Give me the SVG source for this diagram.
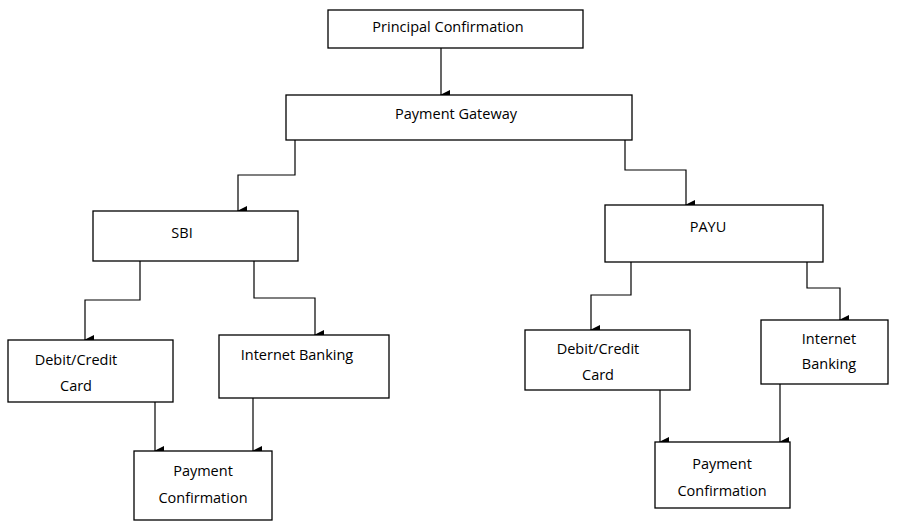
<svg xmlns="http://www.w3.org/2000/svg" width="907" height="530" viewBox="0 0 907 530">
<defs>
<marker id="a" markerWidth="10" markerHeight="10" refX="5" refY="9" orient="auto" markerUnits="userSpaceOnUse" viewBox="0 0 10 10">
<path d="M0,0 L10,0 L5,10 Z" fill="#000"/>
</marker>
<style>
.b{fill:#fff;stroke:#000;stroke-width:1.3}
.t{font-family:"Open Sans","Liberation Sans",sans-serif;font-size:14.5px;fill:#000;text-anchor:middle}
.c path{fill:none;stroke:#000;stroke-width:1.2;marker-end:url(#a)}
</style>
</defs>
<rect width="907" height="530" fill="#fff"/>
<g class="c">
<path d="M441,48 V95"/>
<path d="M295,140 V175 H238 V211"/>
<path d="M625,140 V170 H686 V205"/>
<path d="M140,261 V300 H85 V340"/>
<path d="M254,261 V298 H315 V335"/>
<path d="M631,262 V295 H591 V330"/>
<path d="M807,262 V288 H840 V320"/>
<path d="M155,402 V451"/>
<path d="M253,398 V451"/>
<path d="M660,390 V442"/>
<path d="M780,384 V442"/>
</g>
<g id="n1"><rect class="b" x="328" y="10" width="255" height="38"/><text class="t" x="448" y="32">Principal Confirmation</text></g>
<g id="n2"><rect class="b" x="286" y="95" width="346" height="45"/><text class="t" x="456" y="119">Payment Gateway</text></g>
<g id="n3"><rect class="b" x="93" y="211" width="205" height="50"/><text class="t" x="182" y="238">SBI</text></g>
<g id="n4"><rect class="b" x="605" y="205" width="218" height="57"/><text class="t" x="708" y="232">PAYU</text></g>
<g id="n5"><rect class="b" x="8" y="340" width="165" height="62"/><text class="t" x="76" y="365">Debit/Credit</text><text class="t" x="76" y="391">Card</text></g>
<g id="n6"><rect class="b" x="219" y="335" width="170" height="63"/><text class="t" x="297" y="360">Internet Banking</text></g>
<g id="n7"><rect class="b" x="134" y="451" width="138" height="69"/><text class="t" x="203" y="476">Payment</text><text class="t" x="203" y="503">Confirmation</text></g>
<g id="n8"><rect class="b" x="525" y="330" width="165" height="60"/><text class="t" x="598" y="354">Debit/Credit</text><text class="t" x="598" y="380">Card</text></g>
<g id="n9"><rect class="b" x="761" y="320" width="127" height="64"/><text class="t" x="829" y="344">Internet</text><text class="t" x="829" y="369">Banking</text></g>
<g id="n10"><rect class="b" x="655" y="442" width="135" height="66"/><text class="t" x="722" y="469">Payment</text><text class="t" x="722" y="496">Confirmation</text></g>
</svg>
